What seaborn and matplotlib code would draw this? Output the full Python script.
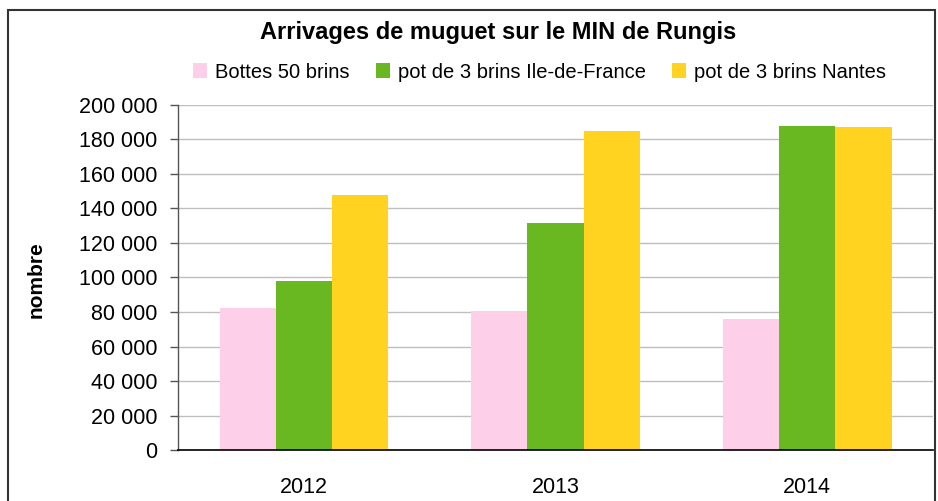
import pandas as pd
import numpy as np
import matplotlib.pyplot as plt
import matplotlib.ticker as mticker
from matplotlib.patches import Rectangle
import seaborn as sns

# ---- data ----
years = ['2012', '2013', '2014']
series = ['Bottes 50 brins', 'pot de 3 brins Ile-de-France', 'pot de 3 brins Nantes']
bottes = [82300, 80400, 76000]
pot_idf = [97800, 131700, 187500]
pot_nantes = [147700, 184800, 187100]
colors = ['#FDCFE8', '#6AB821', '#FFD320']

df = pd.DataFrame({
    'annee': years * 3,
    'serie': [series[0]] * 3 + [series[1]] * 3 + [series[2]] * 3,
    'nombre': bottes + pot_idf + pot_nantes,
})

sns.set_style('white')
plt.rcParams['font.family'] = ['Liberation Sans', 'DejaVu Sans']
plt.rcParams['text.color'] = 'black'
plt.rcParams['axes.labelcolor'] = 'black'

fig = plt.figure(figsize=(9.38, 5.01), dpi=100)
ax = fig.add_axes([0.1898, 0.1012, 0.805, 0.690])

sns.barplot(data=df, x='annee', y='nombre', hue='serie', palette=colors,
            width=0.67, gap=0, saturation=1, ax=ax, linewidth=0)

ax.set_ylim(0, 200000)
ax.set_xlim(-0.5, 2.5)
ax.yaxis.set_major_locator(mticker.MultipleLocator(20000))
ax.yaxis.set_major_formatter(mticker.FuncFormatter(lambda v, p: f"{int(v):,}".replace(',', ' ')))
ax.grid(axis='y', color='#BFBFBF', linewidth=1)
ax.set_axisbelow(True)

# category boundary ticks on x
ax.set_xticks([-0.5, 0.5, 1.5, 2.5], minor=True)
ax.tick_params(axis='x', which='major', length=0, labelsize=15.5, pad=19, labelcolor='black')
ax.tick_params(axis='x', which='minor', length=6, width=1, color='#555555', direction='out')
ax.tick_params(axis='y', length=6, width=1, color='#555555', direction='out',
               labelsize=15.5, pad=9, labelcolor='black')
ax.tick_params(axis='both', bottom=True, left=True)

for s in ['top', 'right']:
    ax.spines[s].set_visible(False)
ax.spines['left'].set_color('#555555')
ax.spines['bottom'].set_color('black')
ax.spines['left'].set_linewidth(1)
ax.spines['bottom'].set_linewidth(1.2)

ax.set_xlabel('')
ax.set_ylabel('nombre', fontsize=15, fontweight='bold')
ax.yaxis.set_label_coords(-0.175, 0.495)

handles, labels = ax.get_legend_handles_labels()
ax.legend(handles, labels, ncol=3, frameon=False, loc='center',
          bbox_to_anchor=(0.575, 1 - 72 / 501), bbox_transform=fig.transFigure,
          fontsize=14.5, handlelength=0.7, handleheight=0.7, handletextpad=0.4,
          columnspacing=1.3, borderaxespad=0)

fig.text(0.531, 1 - 33 / 501, 'Arrivages de muguet sur le MIN de Rungis',
         ha='center', va='center', fontsize=17, fontweight='bold', color='black')

# outer chart frame
fig.patches.append(Rectangle((8 / 938, -0.05), 927 / 938, 1.05 - 10 / 501,
                             transform=fig.transFigure, fill=False,
                             edgecolor='#333333', linewidth=1.5))

fig.savefig('out.png', dpi=100)
